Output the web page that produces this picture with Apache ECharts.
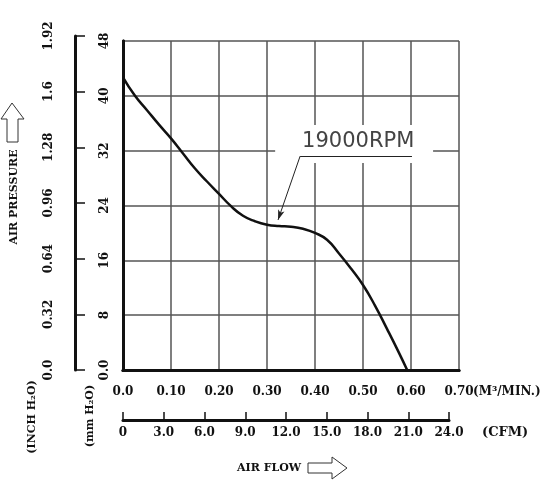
<!DOCTYPE html>
<html>
<head>
<meta charset="utf-8">
<script src="https://cdn.jsdelivr.net/npm/echarts@6/dist/echarts.min.js"></script>
<style>
  html, body { margin: 0; padding: 0; background: #fff; }
  #chart { width: 546px; height: 487px; }
</style>
</head>
<body>
<div id="chart"></div>
<script>
// 曲线数据 (m3/min, mmH2O)
var flowData = [0, 0.025, 0.05, 0.075, 0.1, 0.125, 0.15, 0.175, 0.2, 0.225, 0.25, 0.275, 0.3,
                0.325, 0.35, 0.375, 0.4, 0.425, 0.45, 0.475, 0.5, 0.525, 0.55, 0.575, 0.592];
var pressureData = [42.7, 40.0, 37.9, 35.8, 33.8, 31.6, 29.4, 27.5, 25.7, 23.9, 22.5, 21.7, 21.2,
                    21.0, 20.9, 20.6, 20.0, 19.0, 17.0, 14.8, 12.4, 9.4, 6.0, 2.5, 0];

// 刻度标签
var flowTicks = ['0.0', '0.10', '0.20', '0.30', '0.40', '0.50', '0.60', '0.70'];
var mmTicks = ['0.0', '8', '16', '24', '32', '40', '48'];
var inchTicks = ['0.0', '0.32', '0.64', '0.96', '1.28', '1.6', '1.92'];
var cfmTicks = ['0', '3.0', '6.0', '9.0', '12.0', '15.0', '18.0', '21.0', '24.0'];
var rpmLabel = '19000RPM';

var curve = flowData.map(function (x, i) { return [x, pressureData[i]]; });

var serif = '"DejaVu Serif"';
var lblFont = { fontFamily: 'DejaVu Serif', fontWeight: 'bold', fontSize: 12, color: '#111' };
var gridLine = { show: true, lineStyle: { color: '#555', width: 1.5 } };
var frameLine = { show: true, lineStyle: { color: '#111', width: 3 } };

var chart = echarts.init(document.getElementById('chart'));
var option = {
    animation: false,
    backgroundColor: '#fff',
    grid: [
        { left: 123, top: 41, width: 336, height: 329 },
        { left: 75, top: 36, width: 10, height: 334 },
        { left: 123, top: 400, width: 326, height: 20 }
    ],
    xAxis: [
        {
            gridIndex: 0, type: 'value', min: 0, max: 0.7, interval: 0.1,
            axisLine: frameLine, axisTick: { show: false }, splitLine: gridLine,
            axisLabel: Object.assign({ margin: 16, formatter: function (v) { return flowTicks[Math.round(v / 0.1)]; } }, lblFont)
        },
        {
            gridIndex: 0, type: 'value', min: 0, max: 0.7, position: 'top',
            axisLine: frameLine, axisTick: { show: false }, splitLine: { show: false }, axisLabel: { show: false }
        },
        { gridIndex: 1, type: 'value', show: false },
        {
            gridIndex: 2, type: 'value', min: 0, max: 24, interval: 3,
            axisLine: frameLine, splitLine: { show: false },
            axisTick: { inside: true, length: 8, lineStyle: { color: '#111', width: 1.5 } },
            axisLabel: Object.assign({ margin: 7, formatter: function (v) { return cfmTicks[Math.round(v / 3)]; } }, lblFont)
        }
    ],
    yAxis: [
        {
            gridIndex: 0, type: 'value', min: 0, max: 48, interval: 8,
            axisLine: frameLine, axisTick: { show: false }, splitLine: gridLine,
            axisLabel: Object.assign({ rotate: 90, margin: 12, formatter: function (v) { return mmTicks[Math.round(v / 8)]; } }, lblFont)
        },
        {
            gridIndex: 0, type: 'value', min: 0, max: 48, position: 'right',
            axisLine: frameLine, axisTick: { show: false }, splitLine: { show: false }, axisLabel: { show: false }
        },
        {
            gridIndex: 1, type: 'value', min: 0, max: 1.92, interval: 0.32,
            axisLine: frameLine, splitLine: { show: false },
            axisTick: { inside: true, length: 10, lineStyle: { color: '#111', width: 1.5 } },
            axisLabel: Object.assign({ rotate: 90, margin: 20, formatter: function (v) { return inchTicks[Math.round(v / 0.32)]; } }, lblFont)
        },
        { gridIndex: 2, type: 'value', show: false }
    ],
    series: [{
        type: 'line',
        xAxisIndex: 0,
        yAxisIndex: 0,
        data: curve,
        smooth: 0.5,
        showSymbol: false,
        lineStyle: { color: '#111', width: 2.5 },
        silent: true,
        markArea: {
            silent: true,
            itemStyle: { color: '#fff' },
            data: [[{ coord: [0.317, 35.75] }, { coord: [0.646, 30.2] }]]
        },
        markLine: {
            silent: true,
            symbol: ['none', 'none'],
            label: { show: false },
            lineStyle: { color: '#222', width: 1, type: 'solid' },
            data: [
                [{ coord: [0.369, 31.2] }, { coord: [0.602, 31.2] }],
                [{ coord: [0.369, 31.2] }, { coord: [0.323, 21.9], symbol: 'arrow', symbolSize: [5, 10] }]
            ]
        },
        markPoint: {
            silent: true,
            symbol: 'circle',
            symbolSize: 0,
            label: {
                show: true, position: 'inside', formatter: rpmLabel,
                fontFamily: 'DejaVu Sans', fontSize: 21, color: '#444'
            },
            data: [{ coord: [0.49, 33.4] }]
        }
    }],
    graphic: [
        { type: 'text', x: 473, y: 392, style: { text: '(M³/MIN.)', font: 'bold 12px ' + serif, fill: '#111', verticalAlign: 'middle' } },
        { type: 'text', x: 482, y: 433, style: { text: '(CFM)', font: 'bold 13px ' + serif, fill: '#111', verticalAlign: 'middle' } },
        { type: 'text', x: 237, y: 468, style: { text: 'AIR FLOW', font: 'bold 11px ' + serif, fill: '#111', verticalAlign: 'middle' } },
        {
            type: 'polygon',
            shape: { points: [[308, 463], [332, 463], [332, 457], [347, 468], [332, 479], [332, 473], [308, 473]] },
            style: { fill: '#fff', stroke: '#333', lineWidth: 1 }
        },
        {
            type: 'polygon',
            shape: { points: [[12, 103], [24, 119], [18, 119], [18, 142], [7, 142], [7, 119], [1, 119]] },
            style: { fill: '#fff', stroke: '#333', lineWidth: 1 }
        },
        {
            type: 'text', x: 14, y: 197, rotation: Math.PI / 2,
            style: { text: 'AIR PRESSURE', font: 'bold 11px ' + serif, fill: '#111', align: 'center', verticalAlign: 'middle' }
        },
        {
            type: 'text', x: 32, y: 417, rotation: Math.PI / 2,
            style: { text: '(INCH H₂O)', font: 'bold 11px ' + serif, fill: '#111', align: 'center', verticalAlign: 'middle' }
        },
        {
            type: 'text', x: 90, y: 416, rotation: Math.PI / 2,
            style: { text: '(mm H₂O)', font: 'bold 11px ' + serif, fill: '#111', align: 'center', verticalAlign: 'middle' }
        }
    ]
};
chart.setOption(option);
</script>
</body>
</html>
